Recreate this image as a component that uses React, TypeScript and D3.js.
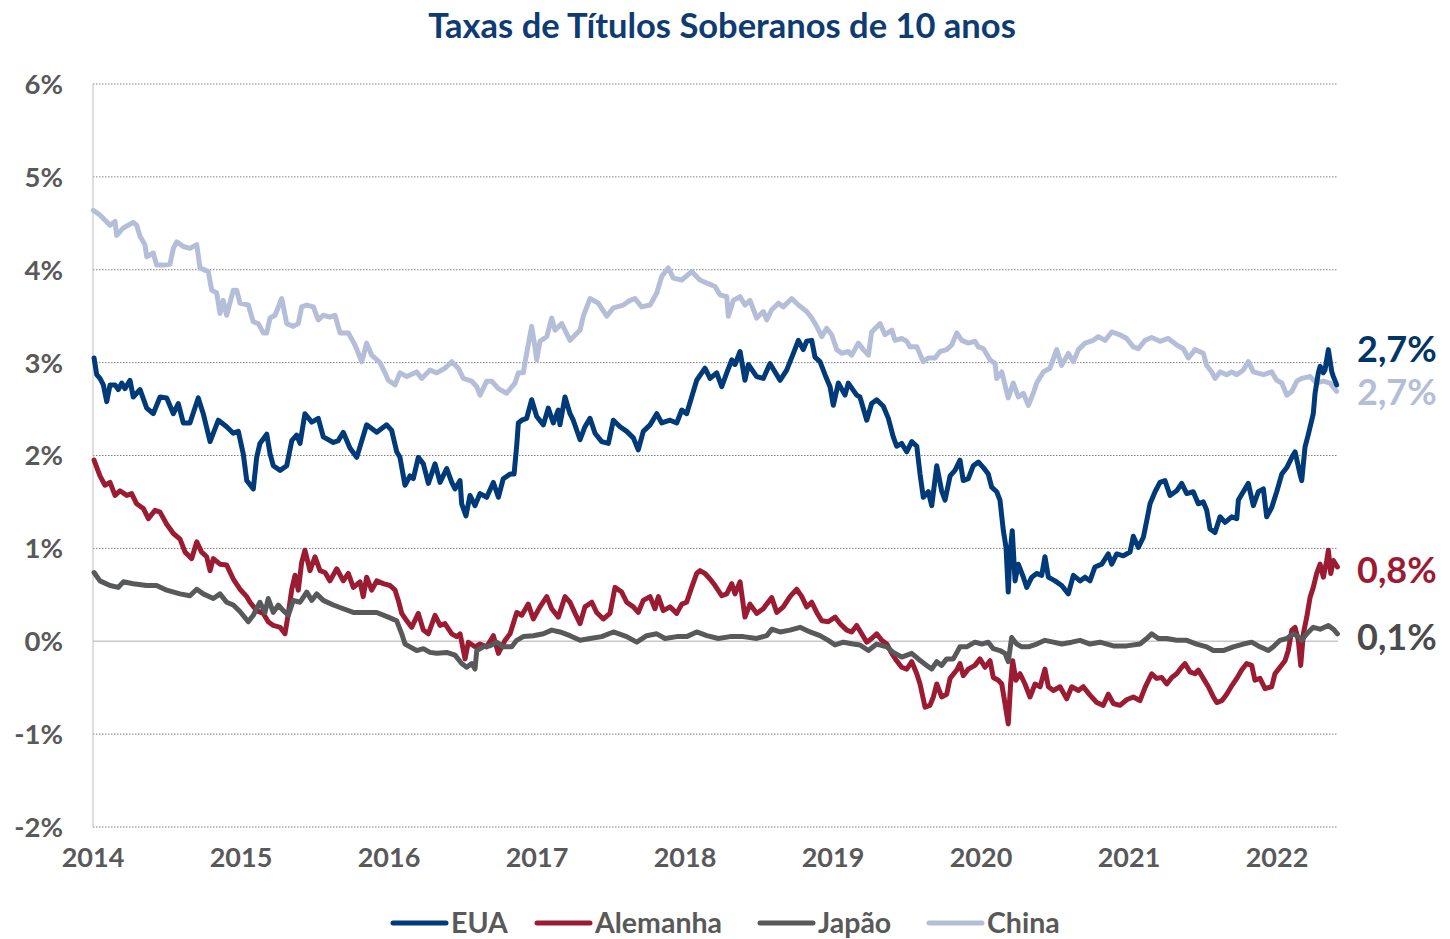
import React from 'react';
import * as d3 from 'd3';

const TITLE = 'Taxas de Títulos Soberanos de 10 anos';
const START_YEAR = 2014;
const END_YEAR = 2022.412;
const Y_TICKS = [-2, -1, 0, 1, 2, 3, 4, 5, 6];
const Y_TICK_LABELS = ['-2%', '-1%', '0%', '1%', '2%', '3%', '4%', '5%', '6%'];
const X_TICKS = [2014, 2015, 2016, 2017, 2018, 2019, 2020, 2021, 2022];
const SERIES_NAMES = ['EUA', 'Alemanha', 'Japão', 'China'];
const END_LABELS = ['2,7%', '0,8%', '0,1%', '2,7%'];
const END_LABEL_AT = [3.15, 0.77, 0.05, 2.68];

// [years since 2014-01-01, 10y yield %]
const eua: [number, number][] = [[0.007,3.05],[0.025,2.87],[0.047,2.83],[0.070,2.76],[0.093,2.58],[0.115,2.76],[0.149,2.76],[0.171,2.71],[0.194,2.78],[0.216,2.72],[0.250,2.81],[0.272,2.63],[0.318,2.71],[0.363,2.51],[0.407,2.45],[0.453,2.63],[0.498,2.62],[0.543,2.45],[0.576,2.56],[0.610,2.35],[0.655,2.35],[0.711,2.62],[0.745,2.45],[0.791,2.15],[0.847,2.38],[0.903,2.31],[0.948,2.24],[0.982,2.26],[1.016,2.01],[1.039,1.73],[1.083,1.64],[1.106,1.98],[1.128,2.13],[1.174,2.23],[1.196,2.02],[1.218,1.89],[1.264,1.84],[1.309,1.89],[1.343,2.16],[1.376,2.22],[1.399,2.13],[1.432,2.45],[1.478,2.36],[1.522,2.40],[1.556,2.20],[1.624,2.14],[1.657,2.16],[1.691,2.25],[1.736,2.08],[1.782,1.98],[1.849,2.33],[1.917,2.25],[1.984,2.33],[2.018,2.27],[2.052,2.04],[2.074,1.98],[2.108,1.68],[2.142,1.78],[2.164,1.75],[2.198,1.98],[2.232,1.91],[2.266,1.70],[2.311,1.91],[2.345,1.71],[2.390,1.86],[2.424,1.71],[2.446,1.64],[2.480,1.73],[2.491,1.48],[2.520,1.35],[2.547,1.57],[2.581,1.46],[2.615,1.59],[2.660,1.55],[2.705,1.71],[2.739,1.55],[2.772,1.75],[2.818,1.80],[2.845,1.80],[2.863,2.11],[2.874,2.35],[2.897,2.38],[2.930,2.40],[2.964,2.60],[2.998,2.42],[3.043,2.33],[3.076,2.51],[3.110,2.35],[3.144,2.49],[3.155,2.33],[3.189,2.63],[3.223,2.45],[3.245,2.38],[3.291,2.17],[3.324,2.31],[3.358,2.40],[3.392,2.24],[3.437,2.15],[3.482,2.13],[3.516,2.38],[3.561,2.31],[3.606,2.26],[3.651,2.19],[3.684,2.06],[3.718,2.26],[3.764,2.33],[3.809,2.45],[3.843,2.35],[3.899,2.38],[3.944,2.35],[3.978,2.49],[4.011,2.45],[4.045,2.63],[4.079,2.81],[4.135,2.94],[4.169,2.83],[4.214,2.89],[4.248,2.74],[4.282,2.89],[4.316,3.03],[4.338,2.98],[4.372,3.12],[4.405,2.81],[4.428,2.98],[4.484,2.85],[4.529,2.83],[4.574,2.99],[4.642,2.81],[4.687,2.92],[4.732,3.10],[4.766,3.24],[4.799,3.14],[4.822,3.23],[4.856,3.24],[4.878,3.06],[4.912,3.01],[4.946,2.87],[4.980,2.74],[5.002,2.54],[5.036,2.78],[5.081,2.65],[5.103,2.78],[5.160,2.65],[5.182,2.63],[5.228,2.38],[5.261,2.56],[5.295,2.60],[5.340,2.53],[5.374,2.40],[5.407,2.20],[5.430,2.10],[5.464,2.13],[5.498,2.04],[5.532,2.15],[5.566,2.10],[5.588,1.80],[5.610,1.55],[5.644,1.61],[5.667,1.46],[5.701,1.89],[5.734,1.62],[5.757,1.52],[5.791,1.78],[5.824,1.84],[5.858,1.95],[5.880,1.73],[5.914,1.75],[5.948,1.89],[5.982,1.93],[6.016,1.87],[6.049,1.80],[6.072,1.66],[6.106,1.61],[6.128,1.52],[6.151,1.19],[6.169,1.01],[6.184,0.53],[6.196,0.94],[6.211,1.19],[6.230,0.65],[6.252,0.83],[6.286,0.69],[6.309,0.58],[6.343,0.69],[6.376,0.73],[6.410,0.71],[6.432,0.91],[6.455,0.69],[6.500,0.65],[6.545,0.60],[6.590,0.51],[6.624,0.71],[6.669,0.65],[6.703,0.69],[6.736,0.65],[6.770,0.80],[6.816,0.83],[6.860,0.94],[6.883,0.83],[6.917,0.94],[6.961,0.92],[7.007,0.96],[7.029,1.13],[7.063,1.01],[7.097,1.12],[7.120,1.30],[7.142,1.48],[7.176,1.61],[7.209,1.71],[7.243,1.73],[7.277,1.57],[7.322,1.62],[7.356,1.70],[7.390,1.59],[7.434,1.61],[7.468,1.48],[7.502,1.50],[7.525,1.41],[7.547,1.21],[7.581,1.17],[7.615,1.34],[7.649,1.28],[7.694,1.34],[7.728,1.32],[7.739,1.52],[7.772,1.61],[7.806,1.70],[7.840,1.46],[7.874,1.61],[7.908,1.64],[7.930,1.34],[7.964,1.44],[7.998,1.61],[8.032,1.80],[8.066,1.87],[8.100,1.98],[8.122,2.04],[8.155,1.80],[8.167,1.73],[8.189,2.09],[8.212,2.23],[8.245,2.45],[8.257,2.67],[8.279,2.89],[8.291,2.96],[8.313,2.89],[8.324,2.92],[8.347,3.14],[8.370,2.90],[8.381,2.85],[8.403,2.76]];

const alemanha: [number, number][] = [[0.007,1.95],[0.047,1.78],[0.081,1.68],[0.115,1.71],[0.149,1.57],[0.182,1.62],[0.228,1.57],[0.261,1.59],[0.295,1.48],[0.340,1.43],[0.374,1.32],[0.419,1.41],[0.453,1.39],[0.498,1.26],[0.543,1.16],[0.588,1.10],[0.622,0.96],[0.667,0.89],[0.701,1.07],[0.734,0.96],[0.768,0.91],[0.791,0.76],[0.813,0.89],[0.858,0.83],[0.903,0.82],[0.948,0.67],[0.993,0.56],[1.039,0.48],[1.061,0.42],[1.106,0.33],[1.151,0.30],[1.184,0.21],[1.218,0.17],[1.264,0.15],[1.297,0.08],[1.320,0.30],[1.343,0.56],[1.365,0.71],[1.387,0.55],[1.410,0.85],[1.432,0.98],[1.466,0.76],[1.500,0.91],[1.534,0.76],[1.568,0.74],[1.601,0.65],[1.647,0.78],[1.691,0.65],[1.725,0.73],[1.759,0.58],[1.804,0.64],[1.826,0.48],[1.849,0.69],[1.883,0.55],[1.917,0.65],[1.961,0.62],[2.007,0.60],[2.041,0.55],[2.063,0.44],[2.086,0.30],[2.120,0.22],[2.153,0.15],[2.198,0.30],[2.232,0.12],[2.266,0.08],[2.311,0.28],[2.345,0.17],[2.378,0.19],[2.424,0.08],[2.457,0.05],[2.480,0.08],[2.514,-0.19],[2.536,-0.01],[2.581,-0.06],[2.615,-0.03],[2.660,-0.06],[2.705,0.06],[2.739,-0.13],[2.784,0.01],[2.818,0.08],[2.863,0.31],[2.897,0.28],[2.941,0.40],[2.975,0.24],[3.020,0.37],[3.066,0.48],[3.099,0.35],[3.144,0.26],[3.189,0.48],[3.223,0.42],[3.257,0.30],[3.291,0.19],[3.324,0.37],[3.370,0.42],[3.403,0.31],[3.448,0.24],[3.493,0.30],[3.527,0.58],[3.572,0.53],[3.606,0.42],[3.651,0.37],[3.684,0.31],[3.718,0.44],[3.764,0.48],[3.797,0.35],[3.820,0.48],[3.853,0.33],[3.899,0.37],[3.944,0.30],[3.978,0.40],[4.011,0.42],[4.045,0.58],[4.079,0.73],[4.101,0.76],[4.135,0.73],[4.169,0.67],[4.203,0.60],[4.248,0.49],[4.282,0.51],[4.316,0.62],[4.338,0.51],[4.372,0.64],[4.405,0.26],[4.439,0.40],[4.484,0.30],[4.529,0.35],[4.552,0.40],[4.586,0.47],[4.620,0.31],[4.664,0.37],[4.709,0.48],[4.755,0.56],[4.789,0.48],[4.822,0.37],[4.856,0.42],[4.890,0.31],[4.924,0.22],[4.968,0.21],[5.014,0.26],[5.047,0.19],[5.093,0.12],[5.126,0.10],[5.160,0.17],[5.194,0.08],[5.228,-0.01],[5.261,0.03],[5.295,0.08],[5.329,0.01],[5.363,-0.03],[5.397,-0.13],[5.430,-0.21],[5.464,-0.28],[5.498,-0.30],[5.532,-0.22],[5.566,-0.35],[5.588,-0.46],[5.622,-0.71],[5.655,-0.69],[5.678,-0.60],[5.701,-0.46],[5.734,-0.60],[5.768,-0.57],[5.791,-0.40],[5.836,-0.31],[5.858,-0.24],[5.880,-0.37],[5.914,-0.30],[5.959,-0.26],[5.993,-0.19],[6.027,-0.28],[6.061,-0.21],[6.083,-0.39],[6.117,-0.42],[6.140,-0.46],[6.162,-0.67],[6.184,-0.89],[6.200,-0.46],[6.214,-0.21],[6.236,-0.42],[6.264,-0.35],[6.297,-0.46],[6.331,-0.60],[6.365,-0.46],[6.399,-0.49],[6.432,-0.30],[6.455,-0.49],[6.489,-0.53],[6.534,-0.49],[6.579,-0.62],[6.613,-0.49],[6.658,-0.53],[6.691,-0.49],[6.736,-0.58],[6.782,-0.66],[6.826,-0.69],[6.860,-0.57],[6.894,-0.67],[6.939,-0.69],[6.984,-0.63],[7.029,-0.60],[7.074,-0.64],[7.108,-0.50],[7.153,-0.35],[7.187,-0.40],[7.221,-0.39],[7.255,-0.46],[7.289,-0.39],[7.322,-0.35],[7.356,-0.28],[7.378,-0.24],[7.412,-0.33],[7.446,-0.35],[7.468,-0.31],[7.502,-0.40],[7.536,-0.49],[7.570,-0.60],[7.593,-0.66],[7.627,-0.64],[7.660,-0.57],[7.694,-0.48],[7.728,-0.40],[7.761,-0.31],[7.795,-0.24],[7.829,-0.26],[7.851,-0.42],[7.885,-0.40],[7.919,-0.51],[7.964,-0.49],[7.986,-0.35],[8.020,-0.28],[8.054,-0.21],[8.076,-0.10],[8.100,0.12],[8.122,0.15],[8.144,0.01],[8.160,-0.26],[8.178,0.08],[8.201,0.26],[8.223,0.47],[8.245,0.58],[8.268,0.73],[8.291,0.83],[8.313,0.69],[8.336,0.87],[8.347,0.98],[8.363,0.73],[8.381,0.87],[8.408,0.80]];

const japao: [number, number][] = [[0.007,0.74],[0.047,0.65],[0.115,0.60],[0.171,0.58],[0.205,0.64],[0.272,0.62],[0.363,0.60],[0.430,0.60],[0.498,0.55],[0.588,0.51],[0.655,0.49],[0.701,0.56],[0.745,0.51],[0.813,0.46],[0.858,0.51],[0.903,0.42],[0.948,0.39],[0.993,0.32],[1.049,0.21],[1.083,0.28],[1.128,0.42],[1.162,0.31],[1.184,0.46],[1.218,0.31],[1.252,0.39],[1.286,0.33],[1.320,0.28],[1.353,0.44],[1.399,0.42],[1.444,0.53],[1.478,0.44],[1.511,0.51],[1.556,0.44],[1.624,0.39],[1.691,0.35],[1.759,0.31],[1.849,0.31],[1.917,0.31],[1.995,0.26],[2.052,0.22],[2.086,0.08],[2.108,-0.03],[2.142,-0.06],[2.187,-0.10],[2.232,-0.08],[2.277,-0.12],[2.322,-0.13],[2.390,-0.12],[2.446,-0.15],[2.491,-0.24],[2.525,-0.28],[2.559,-0.24],[2.581,-0.30],[2.593,-0.10],[2.637,-0.06],[2.682,-0.05],[2.728,-0.01],[2.772,-0.06],[2.829,-0.06],[2.863,0.01],[2.907,0.05],[2.975,0.06],[3.043,0.08],[3.099,0.12],[3.155,0.10],[3.223,0.06],[3.291,0.01],[3.358,0.03],[3.437,0.05],[3.516,0.10],[3.606,0.05],[3.674,-0.01],[3.741,0.06],[3.809,0.08],[3.865,0.03],[3.944,0.05],[4.011,0.05],[4.079,0.10],[4.147,0.06],[4.225,0.03],[4.304,0.05],[4.394,0.05],[4.484,0.03],[4.552,0.06],[4.586,0.13],[4.642,0.10],[4.709,0.12],[4.777,0.15],[4.845,0.10],[4.912,0.06],[4.968,0.01],[5.014,-0.04],[5.070,-0.01],[5.137,-0.03],[5.182,-0.04],[5.239,-0.10],[5.295,-0.03],[5.363,-0.06],[5.407,-0.12],[5.464,-0.17],[5.532,-0.13],[5.576,-0.19],[5.633,-0.26],[5.667,-0.30],[5.701,-0.22],[5.734,-0.26],[5.768,-0.19],[5.813,-0.19],[5.858,-0.06],[5.903,-0.06],[5.959,-0.01],[6.005,-0.03],[6.049,-0.01],[6.083,-0.08],[6.128,-0.10],[6.162,-0.13],[6.184,-0.22],[6.207,0.04],[6.241,-0.03],[6.275,-0.06],[6.320,-0.06],[6.376,-0.03],[6.432,0.01],[6.489,-0.01],[6.545,-0.03],[6.613,-0.01],[6.669,0.01],[6.736,-0.03],[6.804,-0.01],[6.894,-0.05],[6.984,-0.05],[7.074,-0.03],[7.120,0.03],[7.153,0.08],[7.198,0.03],[7.255,0.03],[7.322,0.01],[7.390,0.01],[7.457,-0.03],[7.525,-0.06],[7.570,-0.10],[7.637,-0.10],[7.705,-0.06],[7.772,-0.03],[7.829,-0.01],[7.885,-0.06],[7.941,-0.10],[7.975,-0.06],[8.020,0.01],[8.066,0.03],[8.110,0.08],[8.144,0.05],[8.167,0.01],[8.201,0.08],[8.245,0.15],[8.291,0.13],[8.347,0.17],[8.381,0.13],[8.408,0.08]];

const china: [number, number][] = [[0.002,4.64],[0.047,4.59],[0.115,4.48],[0.149,4.52],[0.160,4.37],[0.205,4.45],[0.272,4.51],[0.295,4.48],[0.318,4.36],[0.351,4.27],[0.363,4.14],[0.407,4.18],[0.430,4.05],[0.475,4.05],[0.520,4.06],[0.543,4.23],[0.566,4.30],[0.610,4.25],[0.655,4.23],[0.701,4.27],[0.723,4.02],[0.779,3.98],[0.802,3.78],[0.836,3.75],[0.858,3.53],[0.880,3.67],[0.903,3.51],[0.948,3.78],[0.971,3.78],[0.993,3.64],[1.049,3.62],[1.083,3.44],[1.117,3.42],[1.151,3.32],[1.174,3.32],[1.196,3.48],[1.230,3.51],[1.275,3.69],[1.309,3.42],[1.353,3.39],[1.387,3.42],[1.410,3.60],[1.444,3.62],[1.489,3.60],[1.522,3.46],[1.556,3.51],[1.601,3.49],[1.635,3.51],[1.669,3.32],[1.725,3.32],[1.770,3.19],[1.816,3.01],[1.849,3.21],[1.883,3.08],[1.939,3.00],[1.973,2.89],[1.995,2.81],[2.041,2.76],[2.074,2.89],[2.120,2.85],[2.187,2.90],[2.221,2.83],[2.277,2.92],[2.322,2.89],[2.378,2.94],[2.424,3.01],[2.468,2.94],[2.502,2.83],[2.559,2.80],[2.593,2.74],[2.615,2.65],[2.660,2.80],[2.694,2.80],[2.739,2.72],[2.795,2.67],[2.851,2.78],[2.874,2.89],[2.907,2.89],[2.930,3.10],[2.964,3.39],[2.986,3.17],[2.998,3.03],[3.020,3.23],[3.066,3.28],[3.099,3.48],[3.122,3.35],[3.167,3.42],[3.223,3.24],[3.291,3.35],[3.313,3.50],[3.358,3.69],[3.414,3.64],[3.471,3.50],[3.516,3.59],[3.583,3.62],[3.628,3.67],[3.662,3.69],[3.707,3.60],[3.764,3.62],[3.809,3.75],[3.843,3.93],[3.887,4.02],[3.921,3.91],[3.978,3.89],[4.045,3.98],[4.101,3.89],[4.157,3.85],[4.203,3.82],[4.236,3.73],[4.282,3.71],[4.293,3.50],[4.326,3.67],[4.372,3.71],[4.405,3.62],[4.439,3.67],[4.484,3.48],[4.529,3.55],[4.552,3.46],[4.586,3.57],[4.631,3.64],[4.664,3.60],[4.721,3.69],[4.766,3.62],[4.822,3.55],[4.856,3.48],[4.890,3.39],[4.924,3.28],[4.957,3.37],[4.991,3.30],[5.025,3.14],[5.059,3.10],[5.103,3.12],[5.126,3.08],[5.171,3.21],[5.205,3.14],[5.239,3.08],[5.261,3.33],[5.318,3.42],[5.351,3.30],[5.397,3.35],[5.419,3.24],[5.464,3.26],[5.498,3.23],[5.520,3.17],[5.566,3.17],[5.610,3.01],[5.644,3.05],[5.689,3.05],[5.723,3.12],[5.768,3.14],[5.802,3.19],[5.836,3.32],[5.870,3.24],[5.914,3.21],[5.959,3.23],[5.982,3.17],[6.016,3.15],[6.061,3.03],[6.095,2.99],[6.106,2.83],[6.140,2.90],[6.184,2.62],[6.218,2.78],[6.252,2.63],[6.286,2.67],[6.320,2.54],[6.353,2.67],[6.376,2.78],[6.421,2.90],[6.466,2.94],[6.511,3.14],[6.545,2.97],[6.590,3.10],[6.624,3.01],[6.658,3.14],[6.703,3.21],[6.759,3.24],[6.793,3.28],[6.838,3.24],[6.883,3.33],[6.939,3.30],[6.984,3.26],[7.029,3.17],[7.063,3.15],[7.108,3.24],[7.153,3.27],[7.209,3.23],[7.266,3.26],[7.322,3.19],[7.367,3.15],[7.401,3.05],[7.446,3.14],[7.502,3.10],[7.525,2.97],[7.559,2.90],[7.581,2.83],[7.615,2.90],[7.660,2.87],[7.694,2.90],[7.728,2.87],[7.772,2.92],[7.806,3.01],[7.840,2.90],[7.908,2.87],[7.964,2.90],[7.998,2.81],[8.032,2.78],[8.066,2.65],[8.100,2.69],[8.134,2.80],[8.167,2.83],[8.223,2.85],[8.268,2.78],[8.313,2.80],[8.358,2.78],[8.403,2.69]];

const SERIES_DATA = [eua, alemanha, japao, china];
const COLORS = ['#003A78', '#9B1C32', '#58595B', '#B5BED9'];
const LABEL_COLORS = ['#003566', '#9B1C32', '#4B4B4D', '#B5BED9'];
const DRAW_ORDER = [3, 1, 2, 0];
const LEGEND_X = [393, 537, 760, 929];

const W = 1450;
const H = 939;
const FONT = 'Lato, "Open Sans", sans-serif';

export default function App() {
  const x = d3.scaleLinear().domain([START_YEAR, END_YEAR]).range([93, 1338]);
  const y = d3.scaleLinear().domain([-2, 6]).range([827, 84]);
  const line = d3
    .line<[number, number]>()
    .x((d) => x(START_YEAR + d[0]))
    .y((d) => y(d[1]));

  return (
    <svg width={W} height={H} style={{ position: 'absolute', left: 0, top: 0, background: '#fff' }}>
      <text x={722} y={38} textAnchor="middle" fontFamily={FONT} fontWeight={700} fontSize={34.5} fill="#0E3B72">
        {TITLE}
      </text>
      {Y_TICKS.map((t, i) => (
        <g key={t}>
          {t === 0 ? (
            <line x1={93} x2={1338} y1={y(t)} y2={y(t)} stroke="#C8C8C8" strokeWidth={1.5} />
          ) : (
            <line x1={93} x2={1338} y1={y(t)} y2={y(t)} stroke="#7F7F7F" strokeWidth={1} strokeDasharray="1.5 1.5" />
          )}
          <text x={63} y={y(t)} dy="0.36em" textAnchor="end" fontFamily={FONT} fontWeight={700} fontSize={27.5} fill="#595959">
            {Y_TICK_LABELS[i]}
          </text>
        </g>
      ))}
      <line x1={93} x2={93} y1={84} y2={827} stroke="#BFBFBF" strokeWidth={1} />
      {X_TICKS.map((t) => (
        <text key={t} x={x(t)} y={867} textAnchor="middle" fontFamily={FONT} fontWeight={700} fontSize={27} fill="#595959">
          {t}
        </text>
      ))}
      {DRAW_ORDER.map((i) => (
        <path
          key={SERIES_NAMES[i]}
          d={line(SERIES_DATA[i]) || ''}
          fill="none"
          stroke={COLORS[i]}
          strokeWidth={5}
          strokeLinejoin="round"
          strokeLinecap="round"
        />
      ))}
      {SERIES_NAMES.map((n, i) => (
        <text key={n} x={1357} y={y(END_LABEL_AT[i])} dy="0.36em" fontFamily={FONT} fontWeight={700} fontSize={36} fill={LABEL_COLORS[i]}>
          {END_LABELS[i]}
        </text>
      ))}
      {SERIES_NAMES.map((n, i) => (
        <g key={'lg' + n}>
          <line x1={LEGEND_X[i]} x2={LEGEND_X[i] + 53} y1={923} y2={923} stroke={COLORS[i]} strokeWidth={5} strokeLinecap="round" />
          <text x={LEGEND_X[i] + 58} y={923} dy="0.36em" fontFamily={FONT} fontWeight={700} fontSize={28.5} fill="#595959">
            {n}
          </text>
        </g>
      ))}
    </svg>
  );
}
